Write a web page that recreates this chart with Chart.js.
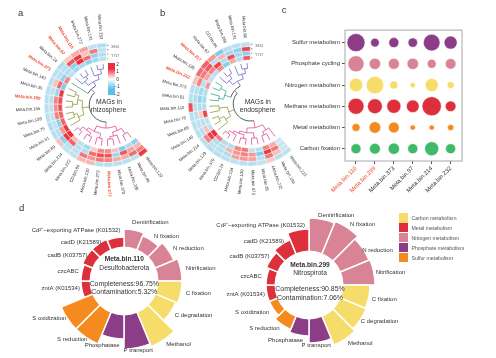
<!DOCTYPE html>
<html>
<head>
<meta charset="utf-8">
<script src="https://cdn.jsdelivr.net/npm/chart.js@4"></script>
<style>
  html, body { margin: 0; padding: 0; background: #fff; }
  body { width: 496px; height: 358px; position: relative; overflow: hidden; font-family: "Liberation Sans", Arial, sans-serif; color: #333; filter: blur(0.3px); }
  canvas { position: absolute; }
  .txt { position: absolute; white-space: nowrap; transform: translate(-50%, -50%); }
  .swatch { position: absolute; left: 399px; width: 9px; height: 9.2px; }
</style>
</head>
<body>
<canvas id="ringA" width="220" height="210" style="left:-14px;top:0px"></canvas>
<canvas id="ringB" width="220" height="210" style="left:130px;top:-1px"></canvas>
<canvas id="bubbleC" width="212" height="175" style="left:284px;top:20px"></canvas>
<canvas id="polarL" width="250" height="160" style="left:-1px;top:201px"></canvas>
<canvas id="polarR" width="260" height="160" style="left:179px;top:205px"></canvas>
<div id="bar" style="position:absolute;left:108px;top:63px;width:7px;height:32px;background:linear-gradient(#ee2e38 0%,#ee2e38 18%,#ffffff 50%,#5cbfe8 82%,#5cbfe8 100%)"></div>
<script>
// Panel a - MAGs in rhizosphere (clockwise from lower right)
const leavesA = ['129','46','286','370','277','273','130','CD.bin.84','222','214','89','51','75','138','156','299','35','140','373','24','97','110','272','191','232'];
const redA = ['277','299','373','97','110'];
const ringA1 = [1.6,-.3,-.4,-.4,-.4,-.4,.4,.4,-.3,-.3,.3,-.4,-.5,-.4,-.4,-.4,-.4,-.4,-.4,-.5,.2,.5,.6,-.3,-.5];
const ringA2 = [.9,1.1,.5,.5,.9,1,.7,1,-.3,-.4,-1,-.4,-.3,-.3,-.3,-.4,-.3,.3,-.4,-.4,1.3,1.6,.3,1,-.3];
const ringA3 = [.4,.6,1.3,-.8,1.3,1.4,1.1,-.5,-.4,1.2,1.6,.7,-1,.9,.8,.9,-.8,1.1,-.9,-.5,-1,1.8,1.1,-.9,-.5];
const ringA4 = [-1,-.5,-1.2,.3,.8,.9,.2,-.7,-.4,.3,1.7,1.6,1.2,1.2,1.4,1.4,1.6,-1.2,.9,-.4,-.7,-.6,-1,-.7,-.4];
const cladeA = [0,0,0,0,0,0,0,0,0,0,0,1,1,1,1,1,1,1,2,3,3,3,3,3,3];
const treeA = [0,
  [.25,[.45,[.72,0,1],[.62,2,[.72,3,4]]],[.5,[.7,5,6],[.62,[.75,7,8],[.8,9,10]]]],
  [.3,[.55,11,[.7,12,13]],[.5,[.7,14,15],[.65,16,17]]],
  [.2,18,[.4,[.62,19,[.75,20,21]],[.6,22,[.8,23,24]]]]];

// Panel b - MAGs in endosphere
const leavesB = ['223','196','272','35','373','130','124','CD.bin.24','370','129','214','146','89','78','110','51','273','232','136','217','97','CD.bin.84','286','191','80'];
const redB = ['232','217'];
const ringB1 = [-.3,-.4,.2,-.3,-.4,-.4,-.3,-.4,-.4,-.5,-.4,-.4,-.4,-.4,1.4,-.4,-.4,.3,1.1,1.2,.7,-1.2,-.4,-.4,-.4];
const ringB2 = [-.1,.3,1,-.4,.6,.7,.6,-.5,-.4,-.3,.9,-.4,-.3,-.4,-.4,-.5,-.4,.9,1,1.3,-.4,.4,-.7,-1,1.5];
const ringB3 = [-.2,1,1.6,-1.2,.7,.9,.7,.4,-.4,-.5,1.5,.3,-.4,.2,-.5,-.9,-.7,-.4,.6,.9,1.5,-.5,1.4,-.7,-1];
const ringB4 = [-.1,.5,.9,-.4,-.3,1,.9,-.5,-.5,.9,1.8,-.3,-.3,1.5,-.5,-.7,-.5,.7,-.3,-.4,.8,-1.1,.5,-.5,1.3];
const cladeB = [0,0,0,0,0,0,0,0,0,0,1,1,1,1,1,2,2,2,2,3,3,3,3,3,3];
const treeB = [0,
  [.3,[.55,0,[.7,1,2]],[.5,[.72,3,4],[.6,[.75,5,6],[.7,7,[.82,8,9]]]]],
  [.25,[.5,10,[.72,11,12]],[.6,13,14]],
  [.15,[.42,[.62,15,16],[.68,17,18]],[.38,[.6,19,[.78,20,21]],[.58,22,[.78,23,24]]]]];

// Panel c
const bubbleRows = ['Sulfur metabolism','Phosphate cycling','Nitrogen metabolism','Methane metabolism','Metal metabolism','Carbon fixation'];
const bubbleBins = ['Meta.bin.110','Meta.bin.299','Meta.bin.373','Meta.bin.97','Meta.bin.214','Meta.bin.232'];
const sulfurSizes = [9,4.3,5,4.7,8.3,6.5];
const phosphateSizes = [8,5.7,5.5,5.7,4.5,5.3];
const nitrogenSizes = [6.7,8.7,4,2.6,6.5,3.5];
const methaneSizes = [8,7.4,7,6.3,9.6,5.3];
const metalSizes = [4,5.8,5.4,2.6,2.6,3.1];
const carbonSizes = [5,5.4,5.6,5,7,5];

// Panel d
const geneLabels = ['Denitrification','N fixation','N reduction','Nitrification','C fixation','C degradation','Methanol','P transport','Phosphatase','S reduction','S oxidization','zntA (K01534)','czcABC','cadB (K03757)','cadD (K21589)','Cd\u00B2\u207A\u2212exporting ATPase (K01532)'];
const geneGroups = ['n','n','n','n','c','c','c','p','p','s','s','m','m','m','m','m'];
const genesBin110 = [52,49,54,58,58,56,71,68,58,68,68,43,43,45,45,44];
const genesBin299 = [67,69,65,66,61,62,65,58,51,48,43,43,43,46,49,56];
const legendNames = ['Carbon metabolism','Metal metabolism','Nitrogen metabolism','Phosphate metabolism','Sulfur metabolism'];

const cPurple = '#8b3d88', cPink = '#d98496', cYellow = '#f6dc68', cRed = '#dd2f3c', cOrange = '#f58a1f', cGreen = '#41b96b';
const groupColor = {n: cPink, c: cYellow, p: cPurple, s: cOrange, m: cRed};
const cladeColor = ['#d6508f', '#8c9a3e', '#3fa88f', '#6f6ac4'];
const FONT = '"Liberation Sans", Arial, sans-serif';

// pale cells are tinted, not white
function heatColor(v){
  var t = Math.min(Math.abs(v) / 1.7, 1);
  var from = v > 0 ? [251,225,215] : [214,234,242];
  var to = v > 0 ? [238,46,56] : [92,191,232];
  var c = to.map(function(x, i){ return Math.round(from[i] + (x - from[i]) * t); });
  return 'rgb(' + c.join(',') + ')';
}

function addText(x, y, text, size, extra){
  var d = document.createElement('div');
  d.className = 'txt';
  d.textContent = text;
  d.style.left = x + 'px';
  d.style.top = y + 'px';
  d.style.fontSize = size + 'px';
  if (extra) { Object.assign(d.style, extra); }
  document.body.appendChild(d);
}

//----- leaf labels, dendrogram and row markers of the ring panels
const ringPlugin = {
  id: 'ringExtras',
  afterDatasetsDraw(chart, args, opts){
    const ctx = chart.ctx;
    const arcs = chart.getDatasetMeta(0).data;
    const inner = chart.getDatasetMeta(3).data[0].innerRadius;
    const cx = arcs[0].x, cy = arcs[0].y, outer = arcs[0].outerRadius;
    ctx.save();
    ctx.textBaseline = 'middle';
    opts.leaves.forEach(function(name, i){
      const a = (arcs[i].startAngle + arcs[i].endAngle) / 2;
      const red = opts.red.indexOf(name) !== -1;
      const text = name.indexOf('.') > -1 ? name : 'Meta.bin.' + name;
      ctx.save();
      ctx.translate(cx + Math.cos(a) * (outer + 4), cy + Math.sin(a) * (outer + 4));
      ctx.font = (red ? 'bold ' : '') + '4.3px ' + FONT;
      ctx.fillStyle = red ? '#ee4d2e' : '#333';
      if (Math.cos(a) >= 0) {
        ctx.rotate(a);
        ctx.textAlign = 'left';
      } else {
        ctx.rotate(a + Math.PI);
        ctx.textAlign = 'right';
      }
      ctx.fillText(text, 0, 0);
      ctx.restore();
    });

    // dendrogram
    const rRoot = 17, rTip = inner - 3;
    const radius = function(h){ return rRoot + h * (rTip - rRoot); };
    ctx.lineWidth = 0.8;
    function walk(node){
      if (typeof node === 'number') {
        const leaf = arcs[node];
        return {a: (leaf.startAngle + leaf.endAngle) / 2, h: 1, clade: opts.clades[node]};
      }
      const kids = node.slice(1).map(walk);
      const same = kids.every(function(k){ return k.clade === kids[0].clade; });
      const clade = same ? kids[0].clade : -1;
      const r = radius(node[0]);
      ctx.strokeStyle = same ? cladeColor[clade] : '#333';
      ctx.beginPath();
      ctx.arc(cx, cy, r, kids[0].a, kids[kids.length - 1].a);
      ctx.stroke();
      kids.forEach(function(k){
        ctx.strokeStyle = k.clade === -1 ? cladeColor[3] : cladeColor[k.clade];
        ctx.beginPath();
        ctx.moveTo(cx + Math.cos(k.a) * r, cy + Math.sin(k.a) * r);
        ctx.lineTo(cx + Math.cos(k.a) * radius(k.h), cy + Math.sin(k.a) * radius(k.h));
        ctx.stroke();
      });
      return {a: (kids[0].a + kids[kids.length - 1].a) / 2, h: node[0], clade: clade};
    }
    walk(opts.tree);

    // row markers at the end of the rings
    const step = (outer - inner) / 4;
    ['#6f8fd8', '#6f8fd8', '#f5a04a', '#f5a04a'].forEach(function(col, i){
      ctx.fillStyle = col;
      ctx.beginPath();
      ctx.arc(cx + 1.5, cy - outer + step * (i + 0.5), 0.8, 0, Math.PI * 2);
      ctx.fill();
    });
    ctx.fillStyle = '#555';
    ctx.font = '3.2px ' + FONT;
    ctx.textAlign = 'left';
    ctx.fillText('XE14', cx + 5, cy - outer + step);
    ctx.fillText('YY17', cx + 5, cy - outer + step * 3);
    ctx.restore();
  }
};

function drawRing(id, leaves, rings, red, clades, tree){
  return new Chart(document.getElementById(id), {
    type: 'doughnut',
    data: {
      labels: leaves,
      datasets: rings.map(function(r){
        return {data: r.map(function(){ return 1; }), backgroundColor: r.map(heatColor), borderColor: '#f4fafb', borderWidth: 0.5};
      })
    },
    plugins: [ringPlugin],
    options: {
      responsive: false,
      animation: false,
      rotation: 138,
      circumference: 222,
      radius: 62,
      cutout: '71%',
      plugins: {
        legend: {display: false},
        tooltip: {enabled: false},
        ringExtras: {leaves: leaves, red: red, clades: clades, tree: tree}
      }
    }
  });
}

drawRing('ringA', leavesA, [ringA1, ringA2, ringA3, ringA4], redA, cladeA, treeA);
drawRing('ringB', leavesB, [ringB1, ringB2, ringB3, ringB4], redB, cladeB, treeB);

//----- bubble panel
function bubbleSet(sizes, row, color){
  return {
    data: sizes.map(function(s, i){ return {x: i, y: row, r: s}; }),
    backgroundColor: color,
    borderColor: '#fff',
    borderWidth: 0.5
  };
}

const framePlugin = {
  id: 'frame',
  afterDraw(chart){
    const a = chart.chartArea, ctx = chart.ctx;
    ctx.save();
    ctx.strokeStyle = '#a8a8a8';
    ctx.lineWidth = 1;
    ctx.strokeRect(a.left, a.top, a.width, a.height);
    ctx.restore();
  }
};

new Chart(document.getElementById('bubbleC'), {
  type: 'bubble',
  data: {
    datasets: [
      bubbleSet(sulfurSizes, 0, cPurple),
      bubbleSet(phosphateSizes, 1, cPink),
      bubbleSet(nitrogenSizes, 2, cYellow),
      bubbleSet(methaneSizes, 3, cRed),
      bubbleSet(metalSizes, 4, cOrange),
      bubbleSet(carbonSizes, 5, cGreen)
    ]
  },
  plugins: [framePlugin],
  options: {
    responsive: false,
    animation: false,
    layout: {padding: {top: 9, right: 34, left: 0, bottom: 0}},
    plugins: {legend: {display: false}, tooltip: {enabled: false}},
    scales: {
      x: {
        type: 'linear', min: -0.58, max: 5.6,
        afterFit(s){ s.height = 34; },
        grid: {drawOnChartArea: false, tickLength: 3, tickColor: '#555'},
        border: {display: false},
        ticks: {
          stepSize: 1, includeBounds: false, autoSkip: false, minRotation: 45, maxRotation: 45, padding: 1,
          font: {size: 5.9, family: FONT},
          color: function(c){ return c.index < 2 ? '#ee4d2e' : '#333'; },
          callback: function(v){ return bubbleBins[v]; }
        }
      },
      y: {
        type: 'linear', min: -0.59, max: 5.58, reverse: true,
        afterFit(s){ s.width = 61; },
        grid: {drawOnChartArea: false, tickLength: 3, tickColor: '#555'},
        border: {display: false},
        ticks: {
          stepSize: 1, includeBounds: false, autoSkip: false, padding: 2,
          font: {size: 6, family: FONT},
          color: '#333',
          callback: function(v){ return bubbleRows[v]; }
        }
      }
    }
  }
});

//----- gene wheels: polar area with a white hole on top
const wheelPlugin = {
  id: 'wheel',
  afterDatasetsDraw(chart, args, opts){
    const ctx = chart.ctx, s = chart.scales.r;
    const half = Math.PI / geneLabels.length;
    ctx.save();
    ctx.fillStyle = '#fff';
    ctx.beginPath();
    ctx.arc(s.xCenter, s.yCenter, s.getDistanceFromCenterForValue(opts.hole), 0, Math.PI * 2);
    ctx.fill();
    ctx.font = '6px ' + FONT;
    ctx.fillStyle = '#333';
    ctx.textBaseline = 'middle';
    geneLabels.forEach(function(name, i){
      const value = chart.data.datasets[0].data[i];
      const pos = s.getPointPosition(i, s.getDistanceFromCenterForValue(value) + 5, half);
      const nudge = opts.nudge[i] || [0, 0];
      ctx.textAlign = i === 7 ? 'center' : (i < 8 ? 'left' : 'right');
      ctx.fillText(name, pos.x + nudge[0], pos.y + nudge[1]);
    });
    ctx.restore();
  }
};

function drawWheel(id, values, nudge){
  return new Chart(document.getElementById(id), {
    type: 'polarArea',
    data: {
      labels: geneLabels,
      datasets: [{
        data: values,
        backgroundColor: geneGroups.map(function(g){ return groupColor[g]; }),
        borderColor: '#fff',
        borderWidth: 1.5
      }]
    },
    plugins: [wheelPlugin],
    options: {
      responsive: false,
      animation: false,
      plugins: {legend: {display: false}, tooltip: {enabled: false}, wheel: {hole: 34.5, nudge: nudge}},
      scales: {
        r: {
          min: 0, max: 80, startAngle: 0,
          grid: {display: false},
          angleLines: {display: false},
          ticks: {display: false},
          pointLabels: {display: false}
        }
      }
    }
  });
}

drawWheel('polarL', genesBin110, {0:[-3,-3], 7:[0,-2], 8:[8,3], 9:[4,-2], 10:[3,-3], 11:[3,-2], 12:[2,0], 13:[5,2], 14:[5,3], 15:[6,-3]});
drawWheel('polarR', genesBin299, {0:[-5,1], 1:[0,1], 2:[-5,4], 3:[-3,1], 4:[-2,1], 5:[-4,-1], 7:[-5,-1], 8:[5,0], 9:[0,-1], 10:[0,1], 11:[3,0], 12:[0,1], 13:[3,0], 14:[5,1], 15:[8,0]});

//----- loose text
addText(20.6, 12.3, 'a', 9.5);
addText(162.6, 12.3, 'b', 9.5);
addText(284, 9, 'c', 9.5);
addText(21.7, 207, 'd', 9.5);

addText(109, 100.6, 'MAGs in', 6.8);
addText(108.5, 108.6, 'rhizosphere', 6.8);
addText(257.7, 100.6, 'MAGs in', 6.8);
addText(257.7, 108.6, 'endosphere', 6.8);

addText(117.7, 64, '2', 4.8);
addText(117.7, 71, '1', 4.8);
addText(117.7, 79.3, '0', 4.8);
addText(117, 86, '\u22121', 4.8);
addText(117, 94.3, '\u22122', 4.8);

addText(124.3, 258.3, 'Meta.bin.110', 6.6, {fontWeight: 'bold'});
addText(124.3, 267, 'Desulfobacterota', 6.6);
addText(124.3, 283, 'Completeness:96.75%', 6.9);
addText(124.3, 291.3, 'Contamination:5.32%', 6.9);

addText(310, 264, 'Meta.bin.299', 6.6, {fontWeight: 'bold'});
addText(310, 272.3, 'Nitrospirota', 6.6);
addText(310, 288.3, 'Completeness:90.85%', 6.9);
addText(310, 296.7, 'Contamination:7.06%', 6.9);

legendNames.forEach(function(name, i){
  var sw = document.createElement('div');
  sw.className = 'swatch';
  sw.style.top = (213.4 + i * 9.9) + 'px';
  sw.style.background = [cYellow, cRed, cPink, cPurple, cOrange][i];
  document.body.appendChild(sw);
  addText(411.5, 218 + i * 9.9, name, 5.2, {transform: 'translate(0,-50%)', color: '#555'});
});
</script>
</body>
</html>
